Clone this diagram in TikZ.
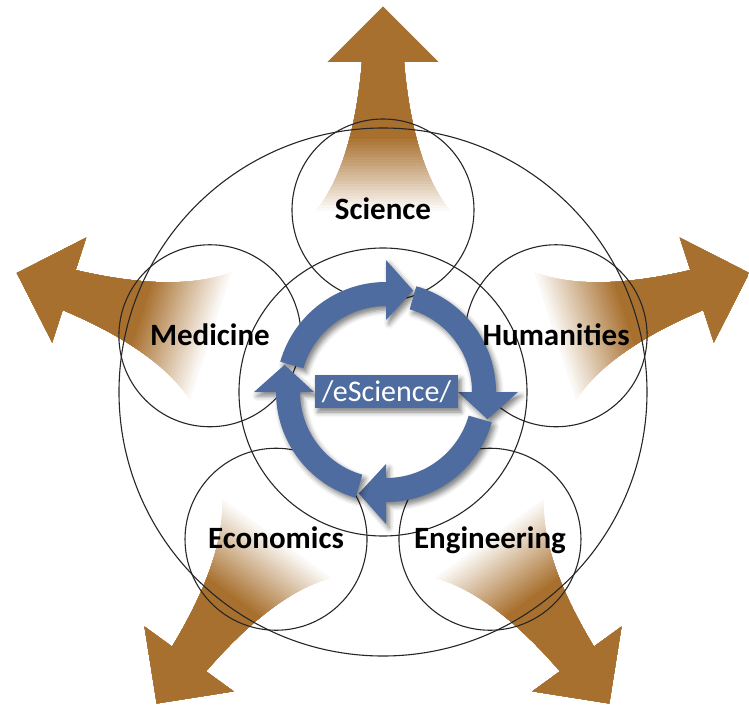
\documentclass[tikz,border=0pt]{standalone}
\usepackage{fontspec}
\setmainfont{Carlito}
\usetikzlibrary{shadows.blur}

\definecolor{armbrown}{RGB}{168,112,46}
\definecolor{ringblue}{RGB}{78,108,160}

\tikzset{
  field/.style={draw=black!85, line width=1.1pt},
  fieldlabel/.style={font=\fontsize{31}{35}\selectfont\bfseries, text=black, inner sep=0pt, text height=19pt, text depth=0pt},
  ringshadow/.style={blur shadow={shadow xshift=3pt, shadow yshift=-4pt, shadow opacity=50, shadow blur radius=5pt}}
}

\begin{document}
\begin{tikzpicture}[x=1pt,y=1pt]
  \useasboundingbox (-383,-313) rectangle (366,392);

  % brown arrows, fading towards the field
  \foreach \a in {90,162,234,306,18}{
    \begin{scope}[rotate=\a]
      \clip (176,-72) .. controls (210,-40) and (270,-26) .. (330,-21) -- (330,-55) -- (385,0) -- (330,55) -- (330,21) .. controls (270,26) and (210,40) .. (176,72) -- cycle;
      \foreach \k [evaluate=\k as \u using 178+3*\k, evaluate=\k as \p using int(4*\k)] in {0,...,25}
        \fill[armbrown!\p!white] (\u,-80) rectangle (400,80);
    \end{scope}
  }

  % circles
  \coordinate (mid) at (0,0);
  \draw[field] (mid) circle (264);
  \draw[field] (mid) circle (144);
  \foreach \a/\name in {90/sci,162/med,18/hum,234/eco,306/eng}
    \coordinate (\name) at (\a:182);
  \foreach \name in {sci,med,hum,eco,eng}
    \draw[field] (\name) circle (91);

  % blue cycle
  \begin{scope}[shift={(3,0)}]
    \foreach \b in {90,0,-90,180}{
      \fill[ringblue, ringshadow] (\b+74:110) arc[start angle=\b+74, end angle=\b, radius=110]
        -- (\b:132) -- (\b-15:105) -- (\b:72) -- (\b:86)
        arc[start angle=\b, end angle=\b+74, radius=86] -- cycle;
    }
  \end{scope}
  \node[fill=ringblue, text=white, font=\fontsize{30}{34}\selectfont, minimum width=143pt, minimum height=33pt, inner sep=0pt, ringshadow] (core) at (3.5,0.5) {/eScience/};

  % labels
  \node[fieldlabel] at (sci) {Science};
  \node[fieldlabel] at (med) {Medicine};
  \node[fieldlabel] at (hum) {Humanities};
  \node[fieldlabel] at (eco) {Economics};
  \node[fieldlabel] at (eng) {Engineering};
\end{tikzpicture}
\end{document}
